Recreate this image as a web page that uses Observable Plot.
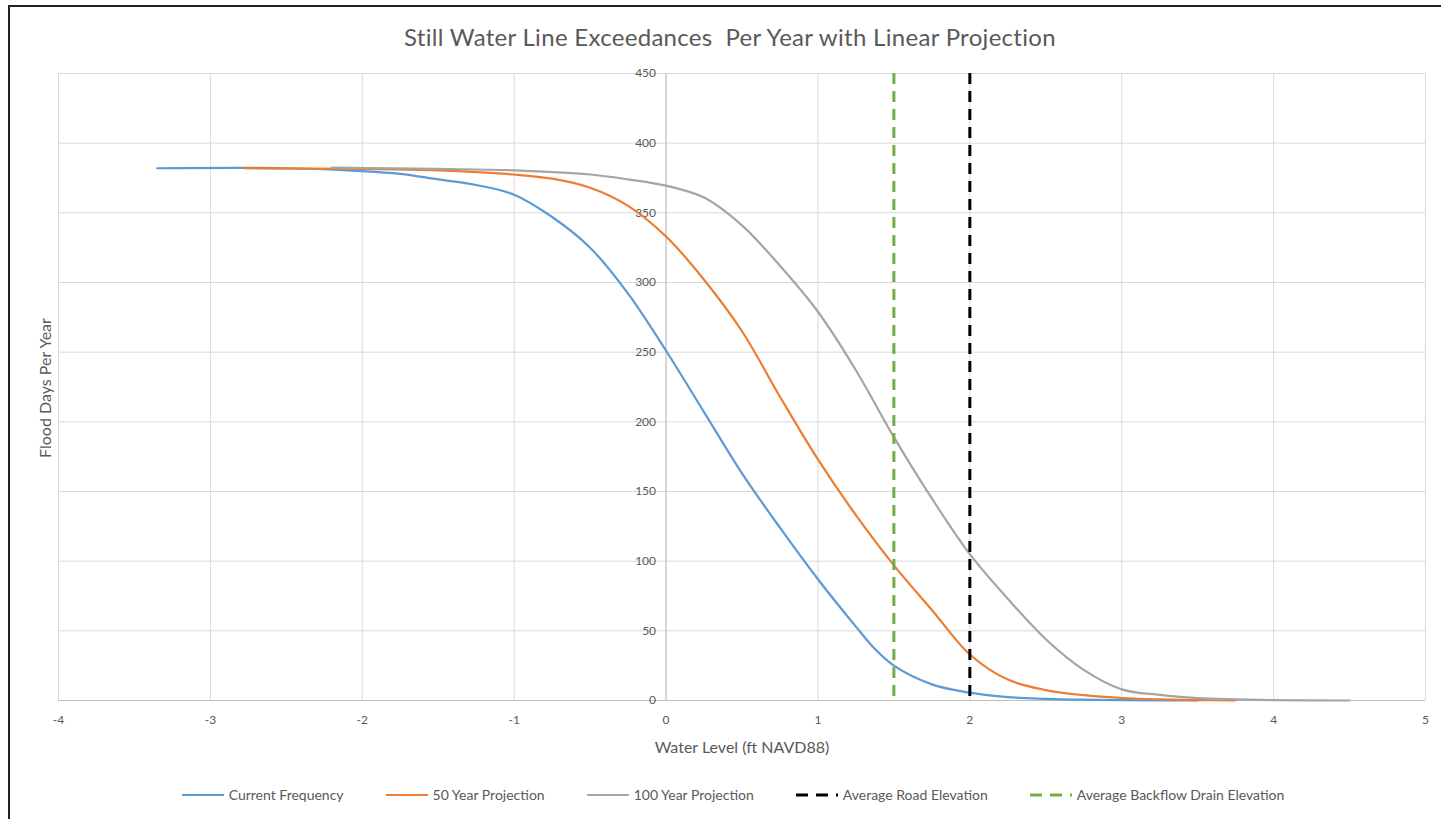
<!DOCTYPE html>
<html>
<head>
<meta charset="utf-8">
<script src="https://cdn.jsdelivr.net/npm/d3@7"></script>
<script src="https://cdn.jsdelivr.net/npm/@observablehq/plot@0.6"></script>
<style>
  html, body { margin: 0; padding: 0; background: #fff; }
  #wrap { position: relative; width: 1441px; height: 819px; overflow: hidden; font-family: Lato, "Open Sans", sans-serif; color: #595959; }
  #frame { position: absolute; left: 8px; top: 5px; right: -10px; bottom: -10px; border-left: 2px solid #222; border-top: 2px solid #222; }
  #title { position: absolute; left: 0; width: 1460px; top: 22px; text-align: center; font-size: 24px; letter-spacing: 0.3px; white-space: pre; }
  #xtitle { position: absolute; left: 0; width: 1484px; top: 737px; text-align: center; font-size: 16px; }
  #ytitle { position: absolute; left: 44px; top: 388px; transform: translate(-50%, -50%) rotate(-90deg); font-size: 16px; white-space: nowrap; }
  #legend { position: absolute; left: 0; width: 1466px; top: 786px; display: flex; justify-content: center; gap: 42px; font-size: 14px; }
  .item { display: flex; align-items: center; gap: 5px; }
  #chart { position: absolute; left: 0; top: 0; }
</style>
</head>
<body>
<div id="wrap">
  <div id="frame"></div>
  <div id="chart"></div>
  <div id="title">Still Water Line Exceedances  Per Year with Linear Projection</div>
  <div id="xtitle">Water Level (ft NAVD88)</div>
  <div id="ytitle">Flood Days Per Year</div>
  <div id="legend"></div>
</div>
<script>
// ---- data ----
const currentX = [-3.35,-2.5,-2,-1.75,-1.5,-1.25,-1,-0.75,-0.5,-0.25,0,0.25,0.5,0.75,1,1.25,1.375,1.5,1.75,2,2.25,2.5,2.75,3,3.5];
const currentY = [382,382,380,378,374,370,363,347,325,292,251,207,163,124,87,53,37,25,11.6,5.6,2.4,1.2,0.6,0.3,0];

const proj50X = [-2.78,-2,-1.5,-1,-0.75,-0.5,-0.25,0,0.25,0.5,0.75,1,1.25,1.5,1.75,2,2.25,2.5,2.75,3,3.25,3.5,3.75];
const proj50Y = [382,381.5,380.5,377.5,374.5,368,355,333,302,265,218,173,133,97,65,33,15,7.5,3.8,1.8,0.8,0.3,0];

const proj100X = [-2.2,-1.5,-1,-0.5,-0.25,0,0.25,0.5,0.75,1,1.25,1.5,1.75,2,2.25,2.5,2.75,3,3.25,3.5,3.75,4,4.5];
const proj100Y = [382.5,381.5,380.5,377.5,374,369.5,361,341,312,279,237,189,145,105,73,44,22,8,4,1.7,0.8,0.3,0];

const roadElevation = 2;
const backflowElevation = 1.5;

const xTicks = [-4,-3,-2,-1,0,1,2,3,4,5];
const yTicks = [0,50,100,150,200,250,300,350,400,450];

const seriesNames = ["Current Frequency","50 Year Projection","100 Year Projection","Average Road Elevation","Average Backflow Drain Elevation"];
const seriesColors = ["#5b9bd5","#ed7d31","#a5a5a5","#000000","#70ad47"];

// ---- build tables ----
const toRows = (xs, ys) => xs.map((x, i) => ({x, y: ys[i]}));
const cur = toRows(currentX, currentY);
const p50 = toRows(proj50X, proj50Y);
const p100 = toRows(proj100X, proj100Y);
const yMax = yTicks[yTicks.length - 1];

const plot = Plot.plot({
  width: 1441,
  height: 819,
  marginLeft: 58,
  marginRight: 16,
  marginTop: 73,
  marginBottom: 119,
  style: {background: "transparent", fontFamily: "Lato, 'Open Sans', sans-serif", fontSize: "12px", color: "#595959"},
  x: {domain: [xTicks[0], xTicks[xTicks.length - 1]], axis: null},
  y: {domain: [yTicks[0], yMax], axis: null},
  marks: [
    Plot.ruleX(xTicks, {stroke: "#d9d9d9", strokeWidth: 1}),
    Plot.ruleY(yTicks, {stroke: "#d9d9d9", strokeWidth: 1}),
    Plot.ruleX([0], {stroke: "#bfbfbf", strokeWidth: 1}),
    Plot.ruleY([0], {stroke: "#bfbfbf", strokeWidth: 1}),
    Plot.axisX({ticks: xTicks, tickSize: 0, tickPadding: 15, label: null, fontSize: 12, tickFormat: d => String(d)}),
    Plot.text(yTicks, {x: () => 0, y: d => d, text: d => String(d), textAnchor: "end", dx: -10, fill: "#595959", fontSize: 12}),
    Plot.line(cur, {x: "x", y: "y", stroke: seriesColors[0], strokeWidth: 2.2, curve: "catmull-rom"}),
    Plot.line(p50, {x: "x", y: "y", stroke: seriesColors[1], strokeWidth: 2.2, curve: "catmull-rom"}),
    Plot.line(p100, {x: "x", y: "y", stroke: seriesColors[2], strokeWidth: 2.2, curve: "catmull-rom"}),
    Plot.ruleX([roadElevation], {stroke: seriesColors[3], strokeWidth: 3, strokeDasharray: "11,7"}),
    Plot.ruleX([backflowElevation], {stroke: seriesColors[4], strokeWidth: 3, strokeDasharray: "11,7"})
  ]
});
document.getElementById("chart").appendChild(plot);

// ---- legend ----
const legend = document.getElementById("legend");
seriesNames.forEach((name, i) => {
  const item = document.createElement("div");
  item.className = "item";
  const dashed = i >= 3;
  item.innerHTML = `<svg width="42" height="6"><line x1="0" y1="3" x2="42" y2="3" stroke="${seriesColors[i]}" stroke-width="${dashed ? 3 : 2.2}" ${dashed ? 'stroke-dasharray="12,8"' : ''}/></svg><span>${name}</span>`;
  legend.appendChild(item);
});
</script>
</body>
</html>
